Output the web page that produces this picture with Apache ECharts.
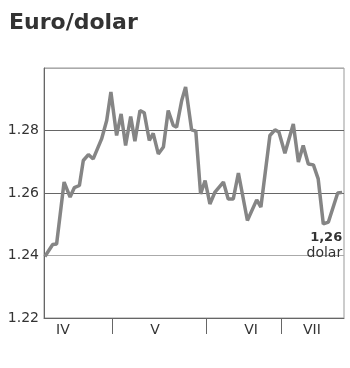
<!DOCTYPE html>
<html>
<head>
<meta charset="utf-8">
<script src="https://cdn.jsdelivr.net/npm/echarts@6/dist/echarts.min.js"></script>
<style>html,body{margin:0;padding:0;background:#fff;}#c{width:350px;height:368px;}</style>
</head>
<body>
<div id="c"></div>
<script>
const titleText = 'Euro/dolar';
// x position in period units (0 = start of axis, 100 = end)
const xPos = [0.3,2.9,4.2,6.7,8.7,10.1,11.8,13.1,14.8,16.4,19.2,20.9,22.3,24.2,25.7,27.2,28.9,30.3,32.0,33.4,35.1,36.4,38.1,39.8,41.4,43.1,44.2,45.9,47.2,49.2,50.6,52.2,53.7,55.3,57.0,59.8,61.4,63.1,64.8,67.8,70.9,72.3,75.3,77.0,78.3,80.3,83.1,84.8,86.4,88.1,89.8,91.4,93.1,94.8,97.9,99.4];
const rate = [1.2397,1.2435,1.2437,1.2635,1.2587,1.2617,1.2624,1.2704,1.2723,1.2709,1.2773,1.2832,1.2923,1.2784,1.2853,1.2752,1.2845,1.2766,1.2864,1.2857,1.2768,1.2791,1.2725,1.2747,1.2864,1.2816,1.2811,1.2896,1.2939,1.2802,1.2798,1.2597,1.2640,1.2565,1.2603,1.2635,1.2581,1.2581,1.2664,1.2512,1.2578,1.2555,1.2784,1.2802,1.2795,1.2727,1.2821,1.2699,1.2752,1.2693,1.2690,1.2645,1.2501,1.2507,1.2600,1.2602];
const monthBreaks = [22.9, 54.2, 79.0];
const monthLabels = ['IV', 'V', 'VI', 'VII'];
const monthLabelPos = [6.3, 37.0, 69.0, 89.3];
const yTicks = [1.22, 1.24, 1.26, 1.28, 1.30];
const endValueText = '1,26';
const endUnitText = 'dolar';

const FONT = 'DejaVu Sans';
const chart = echarts.init(document.getElementById('c'), null, {renderer: 'canvas'});
chart.setOption({
  animation: false,
  title: {
    text: titleText, left: 4, top: 7,
    textStyle: {fontFamily: FONT, fontSize: 22, fontWeight: 'bold', color: '#333'}
  },
  grid: {left: 44, right: 6, top: 68, bottom: 50, show: true, borderColor: '#999', borderWidth: 1},
  xAxis: {
    type: 'value', min: 0, max: 100,
    splitLine: {show: false},
    axisLine: {show: true, lineStyle: {color: '#666', width: 1}},
    axisTick: {show: true, customValues: monthBreaks, length: 16, lineStyle: {color: '#666', width: 1}},
    axisLabel: {
      show: true, customValues: monthLabelPos, margin: 5,
      fontFamily: FONT, fontSize: 14, color: '#333',
      formatter: function (v) {
        let best = 0, d = Infinity;
        monthLabelPos.forEach(function (p, i) { if (Math.abs(p - v) < d) { d = Math.abs(p - v); best = i; } });
        return monthLabels[best];
      }
    }
  },
  yAxis: {
    type: 'value', min: yTicks[0], max: yTicks[yTicks.length - 1], interval: 0.02,
    axisLine: {show: true, lineStyle: {color: '#666', width: 1}},
    axisTick: {show: false},
    splitLine: {show: true, lineStyle: {color: ['#666', '#aaa', '#666', '#666', '#aaa'], width: 1}},
    axisLabel: {
      margin: 5, fontFamily: FONT, fontSize: 14, color: '#333', showMaxLabel: false,
      formatter: function (v) { return v.toFixed(2); }
    }
  },
  series: [{
    type: 'line',
    data: xPos.map(function (x, i) { return [x, rate[i]]; }),
    showSymbol: false,
    lineStyle: {color: '#858585', width: 3.5},
    itemStyle: {color: '#858585'},
    endLabel: {
      show: true, distance: 0, align: 'right', verticalAlign: 'top', offset: [0, 38],
      formatter: '{a|' + endValueText + '}\n{b|' + endUnitText + '}',
      rich: {
        a: {fontFamily: FONT, fontSize: 13, fontWeight: 'bold', color: '#333', align: 'right', lineHeight: 15},
        b: {fontFamily: FONT, fontSize: 14, color: '#333', align: 'right', lineHeight: 15}
      }
    }
  }]
});
</script>
</body>
</html>
